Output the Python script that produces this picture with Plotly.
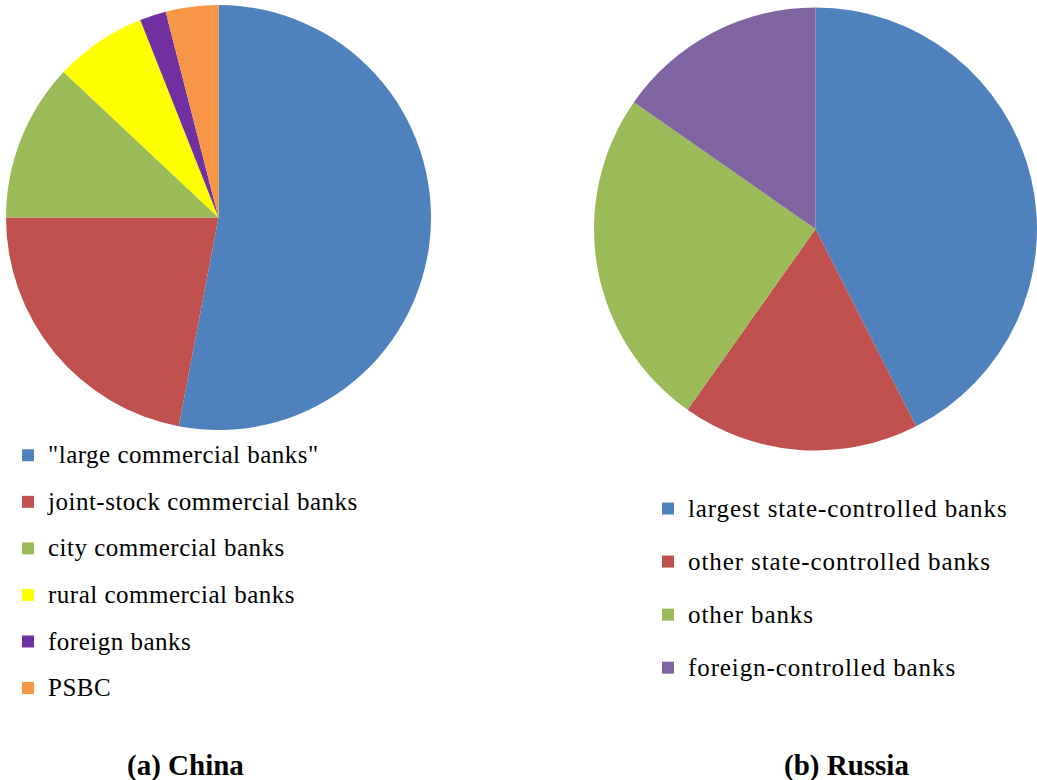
import plotly.graph_objects as go

W, H = 1037, 780

china_labels = ['"large commercial banks"', "joint-stock commercial banks", "city commercial banks",
                "rural commercial banks", "foreign banks", "PSBC"]
china_values = [53, 22, 12, 7, 2, 4]
china_colors = ["#4F81BD", "#C0504D", "#9BBB59", "#FFFF00", "#7030A0", "#F79646"]

russia_labels = ["largest state-controlled banks", "other state-controlled banks", "other banks",
                 "foreign-controlled banks"]
russia_values = [42.5, 17.3, 24.9, 15.3]
russia_colors = ["#4F81BD", "#C0504D", "#9BBB59", "#8064A2"]

titles = ["(a) China", "(b) Russia"]

FONT = "Liberation Serif"


def px_dom(x0, x1, y0, y1):
    return dict(x=[x0 / W, x1 / W], y=[1 - y1 / H, 1 - y0 / H])


def lab(t, size, ls, shift):
    return (f'<span style="font-size:{size}px;letter-spacing:{ls}px;'
            f'baseline-shift:{shift}px">{t}</span>')


fig = go.Figure()
fig.add_trace(go.Pie(
    labels=[lab(l, 25, 0.5, 5) for l in china_labels], values=china_values,
    marker=dict(colors=china_colors, line=dict(width=0)),
    sort=False, direction="clockwise", rotation=0, textinfo="none",
    domain=px_dom(6, 431, 5, 430), legend="legend", hoverinfo="label+percent",
))
fig.add_trace(go.Pie(
    labels=[lab(l, 25, 0.9, 7) for l in russia_labels], values=russia_values,
    marker=dict(colors=russia_colors, line=dict(width=0)),
    sort=False, direction="clockwise", rotation=0, textinfo="none",
    domain=px_dom(594, 1037, 7, 451), legend="legend2", hoverinfo="label+percent",
))

fig.update_layout(
    width=W, height=H, margin=dict(l=0, r=0, t=0, b=0),
    paper_bgcolor="white", plot_bgcolor="white",
    font=dict(family=FONT, color="black"),
    showlegend=True,
    legend=dict(x=8 / W, y=1 - 427 / H, xanchor="left", yanchor="top",
                font=dict(size=33.5, family=FONT, color="black"), bgcolor="rgba(0,0,0,0)"),
    legend2=dict(x=648 / W, y=1 - 477 / H, xanchor="left", yanchor="top",
                 font=dict(size=38.5, family=FONT, color="black"), bgcolor="rgba(0,0,0,0)"),
    annotations=[
        dict(text=f"<b>{titles[0]}</b>", x=185 / W, y=1 - 765 / H, xref="paper", yref="paper",
             showarrow=False, font=dict(size=29, family=FONT, color="black"), xanchor="center", yanchor="middle"),
        dict(text=f"<b>{titles[1]}</b>", x=846 / W, y=1 - 765 / H, xref="paper", yref="paper",
             showarrow=False, font=dict(size=29, family=FONT, color="black"), xanchor="center", yanchor="middle"),
    ],
)

fig.write_html("out.html")
